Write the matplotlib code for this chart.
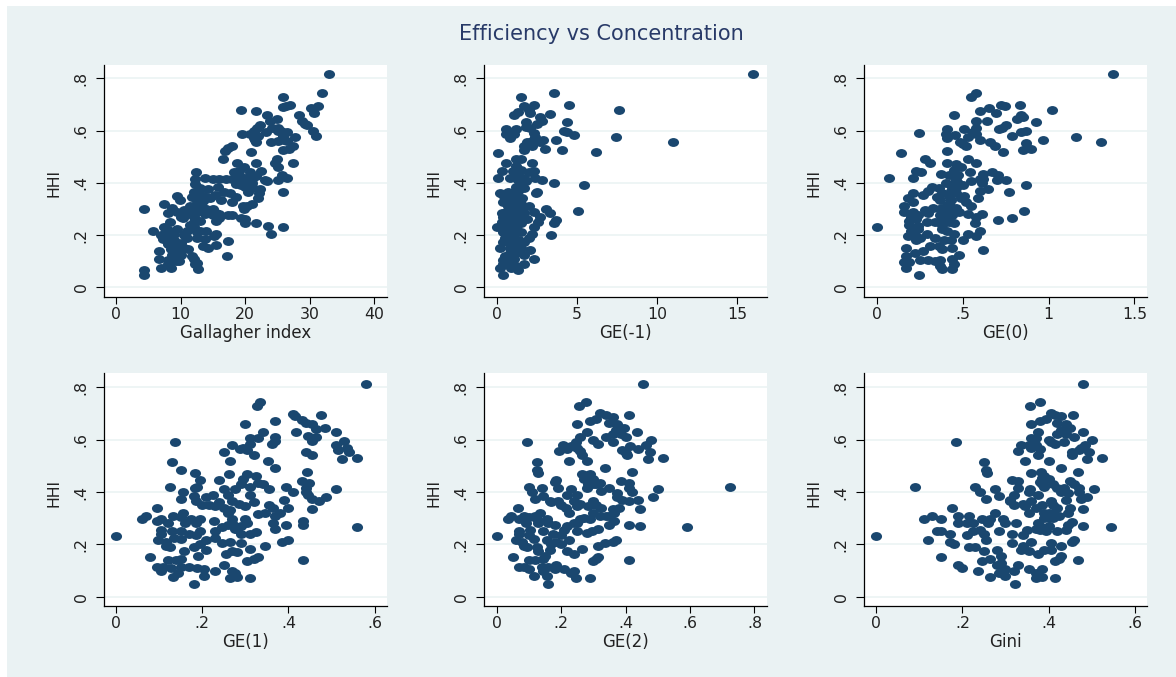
import matplotlib
matplotlib.use("Agg")
import matplotlib.pyplot as plt
from matplotlib.path import Path
from matplotlib.patches import Rectangle

plt.rcParams['font.family'] = ['DejaVu Sans']

gallagher = [(33,.815),(31.9,.745),(25.9,.727),(27,.698),(26.3,.695),(25.9,.692),(30.2,.687),(31.3,.695),(30.7,.667),(19.4,.677),(21.6,.673),(23.4,.66),(24.9,.645),(23.8,.635),(28.3,.66),(28.8,.635),(29.2,.625),(29.6,.62),(30.5,.6),(31,.58),
(22.3,.62),(21.8,.61),(21.4,.6),(23.2,.595),(24.2,.61),(25,.61),(25.5,.6),(26.5,.595),(25.8,.58),(27.7,.575),(19.5,.585),(20.8,.585),(21.3,.57),(21.6,.555),(21.5,.565),(24,.555),(25,.56),(26,.565),(26.5,.56),(27.4,.54),(26.8,.53),(25.9,.525),
(20.9,.518),(17.9,.54),(17.4,.535),(16.9,.52),(16.6,.49),(18.7,.475),(21.7,.475),(24.9,.49),(24.6,.475),(25,.46),(27.4,.477),
(12.4,.443),(19.8,.46),(18.2,.443),(19.1,.445),(20.8,.44),(22.5,.445),(21.7,.425),(13.8,.418),(15,.415),(16,.415),(17,.415),(18,.415),(19,.41),(20,.42),(21,.415),(23,.41),(23.4,.405),(25,.41),(25.7,.43),(26.4,.42),(12.2,.415),(12.2,.395),(18.5,.395),(19.3,.39),(20,.395),(21,.385),(15.8,.385),(14.3,.375),(13,.38),(22.3,.378),(22.2,.36),(20.5,.365),(20.8,.375),(25.9,.365),(12,.365),(12.9,.36),(15.3,.355),(16.7,.365),(17.7,.36),(11.7,.345),(13.5,.35),(14,.345),(16.3,.335),(18.6,.345),(18,.325),(22,.34),(9.5,.35),(9.9,.335),(7.5,.32),(12.5,.33),(13,.32),(21,.32),(20.3,.31),(19.7,.31),(19.8,.3),(8.7,.305),(4.3,.298),(11.5,.31),(12.3,.3),(13.7,.3),(14.4,.29),(15.5,.285),(10.6,.295),(8,.285),(9.5,.29),(11,.28),(12.5,.29),(13.7,.28),(15,.275),(17.3,.277),(18,.278),(16,.265),(15.5,.255),(19.3,.265),(20,.26),(20,.247),(21.7,.247),(23.5,.235),(25.9,.23),(24,.205),(10.4,.265),(12,.25),(13,.253),(8.3,.25),(11.5,.24),(7.5,.23),(9.5,.225),(5.7,.215),(12,.23),(14,.215),(11,.215),(10.5,.2),(12.5,.19),(7,.2),(8,.2),(9,.205),(7.2,.185),(8.3,.175),(15.5,.205),(15.2,.195),(13.8,.185),(17.4,.178),(9,.18),(6.7,.14),(8,.165),(10.5,.15),(11.2,.145),(8.5,.145),(13.5,.16),(14.2,.15),(15.5,.163),(17.2,.118),(8.7,.125),(10,.125),(11.8,.12),(6.7,.108),(8,.105),(9.7,.1),(12,.11),(12.2,.09),(7,.075),(8.5,.072),(12.7,.07),(4.3,.068),(4.3,.048),(12.5,.092),
(8,.22),(9,.16),(10,.17),(11,.19),(7.7,.215),(8.7,.19),(9.5,.14),(12.5,.21),(13,.215),(14,.3),(12,.27),(10,.27),(13.5,.33),(14.5,.34),(15,.3),(16,.28),(19,.43),(19.8,.41),(21,.4),(20,.385),(25,.6),(26,.59),(22,.58),(9.3,.1),(8,.09)]

ge_m1 = [(16,.815),(3.55,.745),(1.5,.727),(4.5,.698),(2.3,.697),(1.7,.693),(2,.68),(7.6,.677),(2.1,.667),(1.3,.672),(1.1,.66),(3.3,.663),(2.7,.65),(2.8,.635),(4.4,.633),(1.8,.633),(2.5,.625),(2.1,.61),(1.85,.615),(0.6,.605),(1.2,.605),(0.9,.595),(0.6,.585),(1.1,.585),(0.8,.57),(4.2,.6),(4.4,.595),(4.8,.582),(7.45,.575),(11,.557),(2.3,.59),(2.4,.575),(2.9,.565),(3.7,.565),(2.2,.56),(2.7,.555),(1.9,.555),(1.7,.54),(2.2,.54),(1.7,.525),(3,.528),(4.05,.525),(6.2,.518),(0.1,.515),(1.2,.49),(1.5,.49),(0.6,.475),(2.2,.475),(1.2,.465),(0.3,.445),(2.3,.445),(1,.445),(1.5,.45),(2,.44),(0.05,.42),(0.8,.42),(1.3,.43),(1.7,.42),(2.4,.42),(2.8,.412),(1.3,.41),(1.8,.405),(1.5,.395),(3.55,.4),(5.45,.392),(1.2,.385),(1.7,.38),(2.5,.365),(2.45,.36),(1.3,.37),(0.2,.36),(0.7,.365),(0.4,.355),(1,.355),(0.9,.34),(1.2,.345),(1.6,.34),(0.4,.325),(0.8,.325),(1.2,.325),(1.5,.32),(2,.31),(0.7,.31),(1.1,.305),(1.5,.3),(2.3,.29),(3.1,.298),(3.3,.285),(5.05,.292),(0.3,.285),(0.6,.29),(0.9,.285),(1.3,.285),(1.7,.285),(0.4,.27),(0.9,.27),(1.3,.265),(1.9,.262),(2.7,.268),(0.3,.25),(0.7,.255),(1,.25),(1.5,.245),(2.6,.25),(3.7,.258),(3.6,.245),(0,.23),(0.5,.235),(0.9,.235),(1.2,.23),(2.3,.23),(0.4,.21),(0.8,.22),(1.2,.215),(1.5,.21),(2.2,.205),(2,.19),(3.4,.2),(0.5,.19),(0.8,.195),(1.1,.19),(0.4,.175),(0.9,.175),(1.4,.18),(1.7,.175),(0.2,.152),(0.8,.15),(1.2,.155),(1.5,.15),(2.05,.142),(0.5,.12),(0.8,.13),(1.2,.13),(1.7,.123),(0.4,.105),(0.8,.11),(1.1,.11),(2.3,.108),(0.4,.09),(1.7,.088),(0.2,.072),(0.9,.072),(1.2,.08),(1.3,.068),(0.4,.048),(0.7,.1)]

ge_0 = [(1.375,.815),(.58,.745),(.55,.727),(.725,.697),(.745,.695),(.835,.698),(.655,.686),(.6,.673),(.695,.667),(1.02,.677),(.45,.66),(.84,.66),(.85,.65),(.815,.645),(.58,.635),(.64,.635),(.925,.633),(.75,.62),(.73,.61),(.71,.605),(.41,.607),(.51,.607),(.58,.61),(.56,.595),(.84,.595),(.87,.6),(.245,.59),(.4,.585),(.455,.583),(.58,.585),(.79,.58),(.53,.575),(.6,.565),(.41,.57),(.97,.565),(1.16,.575),(1.305,.557),(.485,.555),(.5,.548),(.66,.555),(.69,.54),(.52,.54),(.87,.553),(.41,.52),(.85,.525),(.9,.528),(.735,.518),(.14,.515),(.28,.49),(.53,.49),(.31,.475),(.41,.475),(.58,.475),(.46,.472),(.49,.46),(.45,.45),(.23,.445),(.26,.443),(.54,.44),(.67,.443),(.62,.435),(.705,.43),(.375,.433),(.44,.43),(.07,.42),(.21,.42),(.46,.42),(.62,.415),(.7,.41),(.75,.41),(.55,.405),(.6,.415),(.4,.4),(.47,.4),(.61,.4),(.87,.39),(.32,.385),(.36,.38),(.44,.385),(.5,.39),(.65,.378),(.3,.37),(.6,.37),(.77,.365),(.21,.36),(.27,.355),(.38,.36),(.46,.36),(.35,.345),(.42,.35),(.51,.35),(.18,.34),(.37,.335),(.43,.335),(.49,.34),(.59,.34),(.21,.325),(.42,.32),(.52,.325),(.16,.31),(.33,.305),(.38,.305),(.46,.305),(.55,.31),(.16,.29),(.21,.29),(.28,.295),(.3,.285),(.41,.29),(.48,.29),(.53,.28),(.61,.282),(.86,.292),(.24,.275),(.37,.275),(.44,.275),(.58,.27),(.79,.265),(.19,.255),(.29,.25),(.34,.25),(.41,.26),(.705,.258),(.19,.24),(.24,.235),(.38,.24),(.45,.245),(.57,.245),(0,.23),(.2,.215),(.24,.225),(.38,.225),(.41,.215),(.6,.215),(.18,.195),(.21,.205),(.29,.205),(.45,.205),(.53,.205),(.58,.195),(.23,.18),(.34,.19),(.39,.18),(.5,.18),(.43,.18),(.31,.16),(.36,.16),(.17,.15),(.27,.14),(.38,.145),(.44,.15),(.62,.142),(.22,.13),(.17,.12),(.48,.122),(.25,.105),(.3,.105),(.34,.1),(.37,.105),(.44,.108),(.16,.098),(.19,.095),(.45,.088),(.37,.08),(.38,.07),(.17,.075),(.44,.07),(.245,.048),
(.4,.27),(.42,.25),(.44,.3),(.45,.4),(.46,.38),(.43,.37),(.41,.31),(.39,.26),(.37,.3),(.23,.26),(.2,.27),(.25,.19),(.22,.2),(.42,.43),(.47,.43)]

ge_1 = [(0,.23),(.58,.813),(.335,.745),(.327,.73),(.41,.698),(.415,.69),(.475,.695),(.37,.67),(.3,.66),(.432,.675),(.44,.665),(.455,.66),(.465,.64),(.485,.645),(.34,.63),(.417,.63),(.51,.63),(.445,.615),(.465,.61),(.455,.595),(.37,.61),(.31,.605),(.33,.605),(.368,.595),(.362,.585),(.136,.59),(.27,.58),(.31,.585),(.295,.57),(.287,.565),(.303,.56),(.51,.58),(.53,.595),(.535,.57),(.515,.56),(.54,.553),(.25,.553),(.44,.553),(.455,.54),(.32,.54),(.56,.53),(.525,.525),(.265,.52),(.353,.517),(.13,.515),(.152,.485),(.37,.49),(.183,.473),(.263,.47),(.305,.47),(.443,.475),(.295,.45),(.325,.46),(.195,.445),(.24,.445),(.432,.443),(.448,.435),(.29,.43),(.33,.435),(.125,.42),(.187,.42),(.31,.42),(.34,.43),(.395,.418),(.44,.415),(.51,.41),(.25,.41),(.275,.41),(.155,.4),(.183,.415),(.355,.41),(.41,.4),(.44,.4),(.18,.385),(.225,.388),(.26,.39),(.31,.39),(.445,.39),(.487,.38),(.152,.375),(.208,.38),(.455,.375),(.39,.37),(.47,.365),(.185,.365),(.27,.365),(.24,.36),(.285,.355),(.32,.36),(.2,.35),(.215,.35),(.23,.345),(.3,.345),(.355,.35),(.365,.34),(.095,.34),(.25,.34),(.265,.33),(.4,.34),(.455,.335),(.155,.32),(.33,.315),(.26,.32),(.345,.32),(.133,.31),(.07,.31),(.06,.295),(.15,.305),(.38,.32),(.37,.31),(.095,.29),(.105,.295),(.175,.295),(.195,.295),(.227,.29),(.3,.295),(.27,.295),(.435,.29),(.12,.28),(.16,.28),(.185,.28),(.305,.28),(.365,.28),(.435,.275),(.395,.275),(.26,.275),(.56,.267),(.105,.255),(.13,.25),(.15,.25),(.195,.25),(.245,.265),(.275,.26),(.37,.258),(.105,.24),(.17,.24),(.185,.235),(.23,.25),(.29,.24),(.325,.248),(.31,.24),(.135,.225),(.15,.22),(.21,.215),(.23,.225),(.097,.215),(.115,.21),(.245,.205),(.265,.21),(.29,.205),(.4,.215),(.385,.208),(.115,.195),(.125,.19),(.18,.19),(.195,.2),(.345,.195),(.21,.18),(.31,.183),(.27,.175),(.28,.17),(.255,.163),(.158,.175),(.078,.152),(.19,.155),(.15,.145),(.33,.153),(.32,.145),(.305,.138),(.435,.14),(.12,.14),(.14,.14),(.095,.115),(.11,.115),(.15,.115),(.17,.115),(.127,.108),(.105,.1),(.25,.12),(.187,.108),(.205,.105),(.23,.1),(.27,.1),(.145,.09),(.133,.077),(.205,.08),(.275,.09),(.28,.075),(.265,.07),(.31,.072),(.182,.05),
(.28,.26),(.27,.28),(.29,.27)]

ge_2 = [(0,.23),(.455,.813),(.277,.745),(.255,.73),(.32,.7),(.34,.695),(.36,.688),(.41,.695),(.31,.68),(.29,.67),(.35,.665),(.375,.66),(.25,.66),(.395,.645),(.37,.635),(.28,.63),(.435,.63),(.385,.62),(.36,.62),(.34,.61),(.4,.61),(.26,.61),(.245,.59),(.095,.59),(.3,.6),(.36,.592),(.48,.597),(.205,.58),(.315,.585),(.465,.58),(.415,.575),(.23,.575),(.25,.57),(.44,.565),(.22,.565),(.26,.555),(.195,.555),(.39,.56),(.4,.55),(.475,.553),(.405,.54),(.265,.54),(.515,.53),(.47,.525),(.225,.52),(.28,.517),(.125,.515),(.335,.49),(.125,.485),(.13,.472),(.42,.475),(.265,.47),(.285,.465),(.3,.45),(.27,.45),(.185,.445),(.18,.44),(.385,.443),(.32,.435),(.31,.43),(.41,.435),(.285,.43),(.28,.415),(.1,.42),(.14,.415),(.35,.415),(.41,.415),(.5,.41),(.19,.415),(.23,.41),(.325,.405),(.11,.4),(.22,.39),(.42,.4),(.375,.395),(.145,.385),(.25,.388),(.375,.38),(.12,.375),(.485,.38),(.165,.365),(.39,.37),(.44,.37),(.19,.365),(.41,.365),(.24,.365),(.3,.365),(.17,.36),(.2,.35),(.26,.355),(.31,.35),(.25,.345),(.325,.34),(.285,.345),(.215,.34),(.065,.34),(.38,.34),(.36,.335),(.445,.335),(.225,.32),(.135,.32),(.365,.32),(.3,.32),(.32,.31),(.34,.31),(.35,.31),(.045,.31),(.085,.31),(.1,.305),(.035,.295),(.07,.295),(.125,.295),(.155,.295),(.29,.295),(.26,.295),(.365,.288),(.09,.28),(.13,.28),(.16,.28),(.18,.275),(.24,.28),(.22,.27),(.35,.275),(.41,.275),(.445,.272),(.59,.267),(.725,.42),(.07,.25),(.105,.255),(.145,.25),(.21,.255),(.25,.25),(.28,.245),(.295,.25),(.315,.257),(.07,.24),(.1,.235),(.175,.24),(.2,.235),(.115,.22),(.06,.215),(.08,.21),(.155,.215),(.185,.21),(.225,.215),(.37,.215),(.36,.208),(.085,.195),(.095,.19),(.125,.19),(.17,.2),(.2,.2),(.335,.205),(.315,.195),(.165,.18),(.13,.175),(.265,.183),(.22,.175),(.24,.165),(.05,.152),(.15,.155),(.145,.145),(.315,.153),(.31,.145),(.3,.138),(.41,.14),(.1,.14),(.12,.14),(.07,.115),(.085,.115),(.14,.115),(.16,.115),(.1,.105),(.185,.12),(.18,.105),(.21,.105),(.24,.1),(.145,.1),(.115,.08),(.155,.08),(.23,.09),(.245,.072),(.29,.072),(.16,.05),
(.25,.28),(.27,.3),(.29,.47),(.3,.43),(.12,.31)]

gini = [(0,.23),(.09,.42),(.48,.813),(.38,.745),(.357,.73),(.405,.7),(.415,.695),(.43,.69),(.457,.695),(.395,.677),(.38,.67),(.36,.66),(.42,.663),(.44,.66),(.45,.645),(.43,.635),(.375,.63),(.48,.63),(.42,.62),(.44,.62),(.458,.61),(.4,.6),(.37,.605),(.36,.605),(.5,.597),(.185,.59),(.405,.59),(.415,.585),(.435,.59),(.335,.58),(.355,.58),(.37,.58),(.485,.58),(.475,.57),(.36,.57),(.38,.565),(.33,.555),(.455,.553),(.455,.54),(.47,.56),(.495,.553),(.375,.54),(.49,.525),(.525,.53),(.345,.52),(.25,.515),(.4,.517),(.43,.49),(.255,.485),(.258,.472),(.36,.473),(.382,.475),(.468,.475),(.385,.455),(.395,.45),(.315,.445),(.33,.443),(.385,.43),(.41,.43),(.45,.443),(.46,.43),(.23,.42),(.275,.413),(.33,.415),(.358,.41),(.39,.42),(.42,.415),(.437,.415),(.47,.415),(.505,.41),(.24,.4),(.355,.4),(.43,.4),(.445,.395),(.47,.4),(.285,.385),(.32,.388),(.375,.388),(.49,.38),(.255,.375),(.31,.37),(.475,.372),(.44,.37),(.31,.365),(.36,.365),(.405,.365),(.32,.35),(.34,.355),(.385,.35),(.41,.35),(.42,.34),(.345,.345),(.37,.34),(.45,.34),(.48,.335),(.175,.34),(.355,.32),(.275,.32),(.4,.32),(.425,.31),(.445,.32),(.13,.31),(.19,.31),(.215,.31),(.11,.295),(.15,.295),(.245,.295),(.265,.295),(.295,.295),(.41,.3),(.39,.3),(.19,.28),(.21,.28),(.225,.28),(.26,.28),(.3,.28),(.325,.28),(.375,.28),(.445,.275),(.455,.285),(.48,.272),(.545,.267),(.14,.25),(.15,.25),(.225,.25),(.24,.255),(.285,.25),(.35,.255),(.38,.255),(.395,.25),(.42,.25),(.44,.255),(.17,.24),(.21,.235),(.25,.24),(.315,.24),(.34,.235),(.12,.215),(.17,.21),(.255,.215),(.36,.21),(.46,.215),(.455,.208),(.18,.2),(.215,.19),(.23,.19),(.315,.205),(.34,.195),(.405,.205),(.43,.195),(.25,.175),(.28,.18),(.335,.18),(.355,.175),(.39,.18),(.405,.18),(.15,.152),(.29,.155),(.375,.165),(.265,.145),(.245,.135),(.43,.155),(.425,.145),(.415,.138),(.468,.14),(.29,.13),(.19,.122),(.2,.11),(.28,.12),(.33,.12),(.3,.105),(.32,.1),(.355,.105),(.385,.105),(.235,.098),(.285,.09),(.3,.08),(.37,.09),(.265,.075),(.385,.075),(.372,.072),(.415,.072),(.322,.05),
(.39,.26),(.38,.27),(.4,.3),(.41,.32),(.39,.32),(.38,.44),(.39,.46),(.4,.45),(.37,.26),(.4,.27)]

panels = [
    (gallagher, "Gallagher index", [0, 10, 20, 30, 40], ["0", "10", "20", "30", "40"], (-1.81, 41.9)),
    (ge_m1, "GE(-1)", [0, 5, 10, 15], ["0", "5", "10", "15"], (-0.78, 16.84)),
    (ge_0, "GE(0)", [0, .5, 1, 1.5], ["0", ".5", "1", "1.5"], (-0.073, 1.572)),
    (ge_1, "GE(1)", [0, .2, .4, .6], ["0", ".2", ".4", ".6"], (-0.027, .628)),
    (ge_2, "GE(2)", [0, .2, .4, .6, .8], ["0", ".2", ".4", ".6", ".8"], (-0.038, .838)),
    (gini, "Gini", [0, .2, .4, .6], ["0", ".2", ".4", ".6"], (-0.028, .628)),
]
yticks = [0, .2, .4, .6, .8]
ylabels = ["0", ".2", ".4", ".6", ".8"]
title = "Efficiency vs Concentration"

W, H = 1176, 677
NAVY = "#1a476f"
TITLE = "#283a68"
BG = "#eaf2f3"
fig = plt.figure(figsize=(W / 100, H / 100), dpi=100, facecolor="white")
fig.add_artist(Rectangle((7 / W, 0), 1 - 7 / W, 1 - 6 / H, transform=fig.transFigure,
                         facecolor=BG, edgecolor="none", zorder=-1))
fig.text(601 / W, 1 - 34 / H, title, color=TITLE, fontsize=15, ha="center", va="center")

ellipse = Path.unit_circle().transformed(matplotlib.transforms.Affine2D().scale(1, 0.8))
lefts = [104.3, 484.3, 864.3]
rows = [(65, 297, 287.3, 78.3, 333, 183), (373, 606.3, 596.7, 387.3, 642, 493)]
w = 282.4
for i, (pts, xlabel, xt, xtl, xlim) in enumerate(panels):
    top, bottom, y0, y8, xlab_y, ylab_y = rows[i // 3]
    h = bottom - top
    ax = fig.add_axes([lefts[i % 3] / W, 1 - bottom / H, w / W, h / H])
    ax.set_facecolor("white")
    ax.set_xlim(*xlim)
    per = (y0 - y8) / .8
    ax.set_ylim(-(bottom - y0) / per, (y0 - top) / per)
    ax.grid(axis="y", color=BG, lw=1.1, zorder=0)
    ax.set_axisbelow(True)
    ax.scatter([p[0] for p in pts], [p[1] for p in pts], s=64, marker=ellipse,
               color=NAVY, linewidths=0, zorder=3, clip_on=False)
    ax.set_xticks(xt, xtl)
    ax.set_yticks(yticks, ylabels)
    ax.tick_params(axis="x", length=4.7, width=0.8, labelsize=11.3, pad=2.5, labelcolor="#222222")
    ax.tick_params(axis="y", length=5.8, width=0.8, labelsize=11.3, pad=5.5, labelcolor="#222222")
    for lab in ax.get_yticklabels():
        lab.set_rotation(90)
        lab.set_va("center")
    for s in ("top", "right"):
        ax.spines[s].set_visible(False)
    for s in ("left", "bottom"):
        ax.spines[s].set_linewidth(0.9)
    ax.set_xlabel(xlabel, fontsize=12, color="#222222", va="center")
    ax.xaxis.set_label_coords(0.5, (bottom - xlab_y) / h)
    ax.set_ylabel("HHI", fontsize=11.3, color="#222222", va="center")
    ax.yaxis.set_label_coords(-50.3 / w, (bottom - ylab_y) / h)

fig.savefig("out.png", dpi=100, facecolor=fig.get_facecolor())
